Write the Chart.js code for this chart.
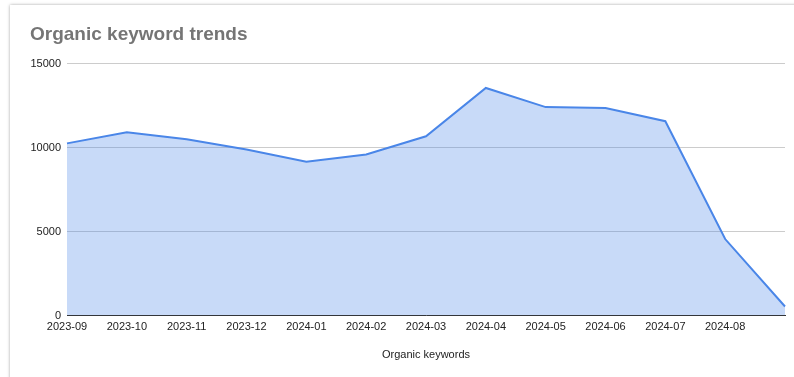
<!DOCTYPE html>
<html>
<head>
<meta charset="utf-8">
<script src="https://cdn.jsdelivr.net/npm/chart.js@4"></script>
<style>
  html, body { margin: 0; padding: 0; background: #fff; }
  #wrap { position: relative; width: 794px; height: 377px; overflow: hidden; }
  #card {
    position: absolute; left: 10px; top: 5px; width: 800px; height: 390px;
    background: #fff; box-shadow: 0 0 3px rgba(0, 0, 0, 0.35);
  }
  canvas { position: absolute; left: 0; top: 0; }
</style>
</head>
<body>
<div id="wrap">
  <div id="card"></div>
  <canvas id="myChart" width="794" height="377"></canvas>
</div>
<script>
const months = [
  "2023-09", "2023-10", "2023-11", "2023-12", "2024-01", "2024-02", "2024-03",
  "2024-04", "2024-05", "2024-06", "2024-07", "2024-08", "2024-09",
];
const keywords = [
  10260, 10920, 10500, 9900, 9160, 9600, 10680,
  13560, 12420, 12360, 11580, 4560, 540,
];
const yTicks = [0, 5000, 10000, 15000];

const ctx = document.getElementById("myChart");

new Chart(ctx, {
  type: "line",
  data: {
    labels: months,
    datasets: [
      {
        label: "Organic keywords",
        data: keywords,
        borderColor: "#4a86e8",
        backgroundColor: "rgba(74, 134, 232, 0.3)",
        borderWidth: 2,
        fill: "origin",
        pointRadius: 0,
        tension: 0,
      },
    ],
  },
  options: {
    responsive: false,
    animation: false,
    layout: {
      padding: { top: 0, bottom: 11, left: 30, right: 9 },
    },
    plugins: {
      legend: { display: false },
      tooltip: { enabled: false },
      title: {
        display: true,
        text: "Organic keyword trends",
        align: "start",
        color: "#757575",
        font: { family: "Arial, 'Liberation Sans'", size: 19, weight: "bold" },
        padding: { top: 23, bottom: 18 },
      },
    },
    scales: {
      x: {
        grid: { display: false, drawTicks: false },
        border: { display: true, color: "#333", width: 1 },
        ticks: {
          color: "#222",
          font: { family: "Arial, 'Liberation Sans'", size: 11 },
          autoSkip: false,
          maxRotation: 0,
          padding: 5,
          callback: function (val, i) {
            return i === months.length - 1 ? "" : this.getLabelForValue(val);
          },
        },
        title: {
          display: true,
          text: "Organic keywords",
          color: "#222",
          font: { family: "Arial, 'Liberation Sans'", size: 11 },
          padding: { top: 10, bottom: 4 },
        },
      },
      y: {
        min: 0,
        max: 15000,
        afterBuildTicks: (scale) => {
          scale.ticks = yTicks.map((v) => ({ value: v }));
        },
        afterFit: (scale) => {
          scale.width = 37;
        },
        grid: { color: "#cccccc", drawTicks: false },
        border: { display: false },
        ticks: {
          color: "#222",
          font: { family: "Arial, 'Liberation Sans'", size: 11 },
          padding: 6,
          callback: (v) => String(v),
        },
      },
    },
  },
});
</script>
</body>
</html>
